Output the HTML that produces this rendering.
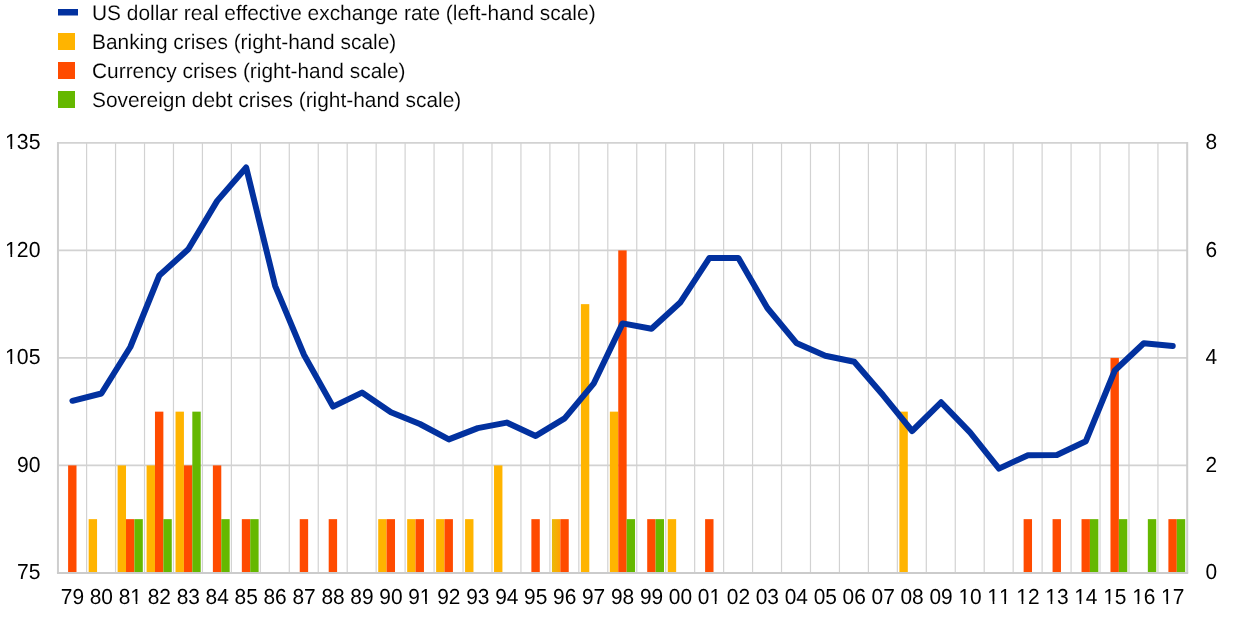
<!DOCTYPE html><html><head><meta charset="utf-8"><style>html,body{margin:0;padding:0;background:#fff;width:1240px;height:618px;overflow:hidden}svg{display:block;will-change:transform}text{font-family:"Liberation Sans",Arial,sans-serif;fill:#000;text-rendering:geometricPrecision;stroke:#fff;stroke-width:0.12px}text.d{stroke:none;font-kerning:none}</style></head><body>
<svg width="1240" height="618" viewBox="0 0 1240 618">
<defs><linearGradient id="g96" x1="0" x2="1" y1="0" y2="0"><stop offset="0" stop-color="#E8BA08"/><stop offset="0.5" stop-color="#F6AE04"/><stop offset="1" stop-color="#FFA200"/></linearGradient></defs>
<rect x="58" y="9" width="20" height="6.5" fill="#02319f"/>
<rect x="58" y="33" width="17" height="17" fill="#FFB400"/>
<rect x="58" y="62" width="17" height="17" fill="#FF4B00"/>
<rect x="58" y="91" width="17" height="17" fill="#65B800"/>
<text x="92.00" y="19.80" font-size="21.0" textLength="503.59" lengthAdjust="spacingAndGlyphs">US dollar real effective exchange rate (left-hand scale)</text>
<text x="92.00" y="48.80" font-size="21.0" textLength="304.22" lengthAdjust="spacingAndGlyphs">Banking crises (right-hand scale)</text>
<text x="92.00" y="77.80" font-size="21.0" textLength="313.47" lengthAdjust="spacingAndGlyphs">Currency crises (right-hand scale)</text>
<text x="92.00" y="106.80" font-size="21.0" textLength="369.25" lengthAdjust="spacingAndGlyphs">Sovereign debt crises (right-hand scale)</text>
<line x1="57.95" x2="1187.2" y1="142.90" y2="142.90" stroke="#d2d2d2" stroke-width="1.8"/>
<line x1="57.95" x2="1187.2" y1="250.40" y2="250.40" stroke="#d2d2d2" stroke-width="1.8"/>
<line x1="57.95" x2="1187.2" y1="357.90" y2="357.90" stroke="#d2d2d2" stroke-width="1.8"/>
<line x1="57.95" x2="1187.2" y1="465.40" y2="465.40" stroke="#d2d2d2" stroke-width="1.8"/>
<line x1="86.61" x2="86.61" y1="142.9" y2="572.9" stroke="#d2d2d2" stroke-width="1.2"/>
<line x1="115.56" x2="115.56" y1="142.9" y2="572.9" stroke="#d2d2d2" stroke-width="1.2"/>
<line x1="144.52" x2="144.52" y1="142.9" y2="572.9" stroke="#d2d2d2" stroke-width="1.2"/>
<line x1="173.47" x2="173.47" y1="142.9" y2="572.9" stroke="#d2d2d2" stroke-width="1.2"/>
<line x1="202.43" x2="202.43" y1="142.9" y2="572.9" stroke="#d2d2d2" stroke-width="1.2"/>
<line x1="231.38" x2="231.38" y1="142.9" y2="572.9" stroke="#d2d2d2" stroke-width="1.2"/>
<line x1="260.34" x2="260.34" y1="142.9" y2="572.9" stroke="#d2d2d2" stroke-width="1.2"/>
<line x1="289.29" x2="289.29" y1="142.9" y2="572.9" stroke="#d2d2d2" stroke-width="1.2"/>
<line x1="318.25" x2="318.25" y1="142.9" y2="572.9" stroke="#d2d2d2" stroke-width="1.2"/>
<line x1="347.20" x2="347.20" y1="142.9" y2="572.9" stroke="#d2d2d2" stroke-width="1.2"/>
<line x1="376.16" x2="376.16" y1="142.9" y2="572.9" stroke="#d2d2d2" stroke-width="1.2"/>
<line x1="405.11" x2="405.11" y1="142.9" y2="572.9" stroke="#d2d2d2" stroke-width="1.2"/>
<line x1="434.07" x2="434.07" y1="142.9" y2="572.9" stroke="#d2d2d2" stroke-width="1.2"/>
<line x1="463.02" x2="463.02" y1="142.9" y2="572.9" stroke="#d2d2d2" stroke-width="1.2"/>
<line x1="491.98" x2="491.98" y1="142.9" y2="572.9" stroke="#d2d2d2" stroke-width="1.2"/>
<line x1="520.93" x2="520.93" y1="142.9" y2="572.9" stroke="#d2d2d2" stroke-width="1.2"/>
<line x1="549.89" x2="549.89" y1="142.9" y2="572.9" stroke="#d2d2d2" stroke-width="1.2"/>
<line x1="578.84" x2="578.84" y1="142.9" y2="572.9" stroke="#d2d2d2" stroke-width="1.2"/>
<line x1="607.80" x2="607.80" y1="142.9" y2="572.9" stroke="#d2d2d2" stroke-width="1.2"/>
<line x1="636.75" x2="636.75" y1="142.9" y2="572.9" stroke="#d2d2d2" stroke-width="1.2"/>
<line x1="665.71" x2="665.71" y1="142.9" y2="572.9" stroke="#d2d2d2" stroke-width="1.2"/>
<line x1="694.66" x2="694.66" y1="142.9" y2="572.9" stroke="#d2d2d2" stroke-width="1.2"/>
<line x1="723.62" x2="723.62" y1="142.9" y2="572.9" stroke="#d2d2d2" stroke-width="1.2"/>
<line x1="752.57" x2="752.57" y1="142.9" y2="572.9" stroke="#d2d2d2" stroke-width="1.2"/>
<line x1="781.53" x2="781.53" y1="142.9" y2="572.9" stroke="#d2d2d2" stroke-width="1.2"/>
<line x1="810.48" x2="810.48" y1="142.9" y2="572.9" stroke="#d2d2d2" stroke-width="1.2"/>
<line x1="839.44" x2="839.44" y1="142.9" y2="572.9" stroke="#d2d2d2" stroke-width="1.2"/>
<line x1="868.39" x2="868.39" y1="142.9" y2="572.9" stroke="#d2d2d2" stroke-width="1.2"/>
<line x1="897.35" x2="897.35" y1="142.9" y2="572.9" stroke="#d2d2d2" stroke-width="1.2"/>
<line x1="926.30" x2="926.30" y1="142.9" y2="572.9" stroke="#d2d2d2" stroke-width="1.2"/>
<line x1="955.26" x2="955.26" y1="142.9" y2="572.9" stroke="#d2d2d2" stroke-width="1.2"/>
<line x1="984.21" x2="984.21" y1="142.9" y2="572.9" stroke="#d2d2d2" stroke-width="1.2"/>
<line x1="1013.17" x2="1013.17" y1="142.9" y2="572.9" stroke="#d2d2d2" stroke-width="1.2"/>
<line x1="1042.12" x2="1042.12" y1="142.9" y2="572.9" stroke="#d2d2d2" stroke-width="1.2"/>
<line x1="1071.08" x2="1071.08" y1="142.9" y2="572.9" stroke="#d2d2d2" stroke-width="1.2"/>
<line x1="1100.03" x2="1100.03" y1="142.9" y2="572.9" stroke="#d2d2d2" stroke-width="1.2"/>
<line x1="1128.99" x2="1128.99" y1="142.9" y2="572.9" stroke="#d2d2d2" stroke-width="1.2"/>
<line x1="1157.94" x2="1157.94" y1="142.9" y2="572.9" stroke="#d2d2d2" stroke-width="1.2"/>
<line x1="57.95" x2="57.95" y1="142.0" y2="572.9" stroke="#cecece" stroke-width="2"/>
<line x1="1187.20" x2="1187.20" y1="142.0" y2="572.9" stroke="#cecece" stroke-width="2"/>
<rect x="68.10" y="465.40" width="8.4" height="107.50" fill="#FF4B00"/>
<rect x="88.66" y="519.15" width="8.4" height="53.75" fill="#FFB400"/>
<rect x="117.61" y="465.40" width="8.4" height="107.50" fill="#FFB400"/>
<rect x="126.01" y="519.15" width="8.4" height="53.75" fill="#FF4B00"/>
<rect x="134.41" y="519.15" width="8.4" height="53.75" fill="#65B800"/>
<rect x="146.57" y="465.40" width="8.4" height="107.50" fill="#FFB400"/>
<rect x="154.97" y="411.65" width="8.4" height="161.25" fill="#FF4B00"/>
<rect x="163.37" y="519.15" width="8.4" height="53.75" fill="#65B800"/>
<rect x="175.52" y="411.65" width="8.4" height="161.25" fill="#FFB400"/>
<rect x="183.92" y="465.40" width="8.4" height="107.50" fill="#FF4B00"/>
<rect x="192.32" y="411.65" width="8.4" height="161.25" fill="#65B800"/>
<rect x="212.88" y="465.40" width="8.4" height="107.50" fill="#FF4B00"/>
<rect x="221.28" y="519.15" width="8.4" height="53.75" fill="#65B800"/>
<rect x="241.83" y="519.15" width="8.4" height="53.75" fill="#FF4B00"/>
<rect x="250.23" y="519.15" width="8.4" height="53.75" fill="#65B800"/>
<rect x="299.74" y="519.15" width="8.4" height="53.75" fill="#FF4B00"/>
<rect x="328.70" y="519.15" width="8.4" height="53.75" fill="#FF4B00"/>
<rect x="378.21" y="519.15" width="8.4" height="53.75" fill="#FFB400"/>
<rect x="386.61" y="519.15" width="8.4" height="53.75" fill="#FF4B00"/>
<rect x="407.16" y="519.15" width="8.4" height="53.75" fill="#FFB400"/>
<rect x="415.56" y="519.15" width="8.4" height="53.75" fill="#FF4B00"/>
<rect x="436.12" y="519.15" width="8.4" height="53.75" fill="#FFB400"/>
<rect x="444.52" y="519.15" width="8.4" height="53.75" fill="#FF4B00"/>
<rect x="465.07" y="519.15" width="8.4" height="53.75" fill="#FFB400"/>
<rect x="494.03" y="465.40" width="8.4" height="107.50" fill="#FFB400"/>
<rect x="531.38" y="519.15" width="8.4" height="53.75" fill="#FF4B00"/>
<rect x="551.94" y="519.15" width="8.4" height="53.75" fill="url(#g96)"/>
<rect x="560.34" y="519.15" width="8.4" height="53.75" fill="#FF4B00"/>
<rect x="580.89" y="304.15" width="8.4" height="268.75" fill="#FFB400"/>
<rect x="609.85" y="411.65" width="8.4" height="161.25" fill="#FFB400"/>
<rect x="618.25" y="250.40" width="8.4" height="322.50" fill="#FF4B00"/>
<rect x="626.65" y="519.15" width="8.4" height="53.75" fill="#65B800"/>
<rect x="647.20" y="519.15" width="8.4" height="53.75" fill="#FF4B00"/>
<rect x="655.60" y="519.15" width="8.4" height="53.75" fill="#65B800"/>
<rect x="667.76" y="519.15" width="8.4" height="53.75" fill="#FFB400"/>
<rect x="705.11" y="519.15" width="8.4" height="53.75" fill="#FF4B00"/>
<rect x="899.40" y="411.65" width="8.4" height="161.25" fill="#FFB400"/>
<rect x="1023.62" y="519.15" width="8.4" height="53.75" fill="#FF4B00"/>
<rect x="1052.57" y="519.15" width="8.4" height="53.75" fill="#FF4B00"/>
<rect x="1081.53" y="519.15" width="8.4" height="53.75" fill="#FF4B00"/>
<rect x="1089.93" y="519.15" width="8.4" height="53.75" fill="#65B800"/>
<rect x="1110.48" y="357.90" width="8.4" height="215.00" fill="#FF4B00"/>
<rect x="1118.88" y="519.15" width="8.4" height="53.75" fill="#65B800"/>
<rect x="1147.84" y="519.15" width="8.4" height="53.75" fill="#65B800"/>
<rect x="1168.39" y="519.15" width="8.4" height="53.75" fill="#FF4B00"/>
<rect x="1176.79" y="519.15" width="8.4" height="53.75" fill="#65B800"/>
<line x1="56.95" x2="1188.2" y1="572.9" y2="572.9" stroke="#cbcbcb" stroke-width="2"/>
<polyline points="72.43,400.8 101.38,393.5 130.34,347 159.29,275.5 188.25,249.3 217.20,200.9 246.16,167.5 275.11,285.8 304.07,355 333.02,406.6 361.98,392.6 390.93,412.2 419.89,424.0 448.84,439.4 477.80,428.1 506.75,422.6 535.71,435.9 564.66,418.4 593.62,383.7 622.58,323.4 651.53,328.8 680.49,302.2 709.44,257.9 738.40,257.9 767.35,308.0 796.31,342.9 825.26,355.7 854.22,361.7 883.17,395.3 912.13,431.0 941.08,402.3 970.04,432.3 998.99,468.6 1027.95,455.2 1056.90,455 1085.86,441.2 1114.81,370.5 1143.77,343.3 1172.72,346.0" fill="none" stroke="#02319f" stroke-width="6" stroke-linejoin="round" stroke-linecap="round"/>
<text class="d" x="40.50" y="149.10" font-size="21.7" textLength="35.46" lengthAdjust="spacingAndGlyphs" text-anchor="end">135</text>
<text class="d" x="40.50" y="256.60" font-size="21.7" textLength="35.46" lengthAdjust="spacingAndGlyphs" text-anchor="end">120</text>
<text class="d" x="40.50" y="364.10" font-size="21.7" textLength="35.46" lengthAdjust="spacingAndGlyphs" text-anchor="end">105</text>
<text class="d" x="40.50" y="471.60" font-size="21.7" textLength="23.45" lengthAdjust="spacingAndGlyphs" text-anchor="end">90</text>
<text class="d" x="40.50" y="579.10" font-size="21.7" textLength="23.45" lengthAdjust="spacingAndGlyphs" text-anchor="end">75</text>
<text class="d" x="1205.50" y="149.10" font-size="21.7" textLength="11.62" lengthAdjust="spacingAndGlyphs">8</text>
<text class="d" x="1205.50" y="256.60" font-size="21.7" textLength="11.62" lengthAdjust="spacingAndGlyphs">6</text>
<text class="d" x="1205.50" y="364.10" font-size="21.7" textLength="11.62" lengthAdjust="spacingAndGlyphs">4</text>
<text class="d" x="1205.50" y="471.60" font-size="21.7" textLength="11.62" lengthAdjust="spacingAndGlyphs">2</text>
<text class="d" x="1205.50" y="579.10" font-size="21.7" textLength="11.62" lengthAdjust="spacingAndGlyphs">0</text>
<text class="d" x="72.43" y="603.80" font-size="21.7" textLength="23.25" lengthAdjust="spacingAndGlyphs" text-anchor="middle">79</text>
<text class="d" x="101.38" y="603.80" font-size="21.7" textLength="23.25" lengthAdjust="spacingAndGlyphs" text-anchor="middle">80</text>
<text class="d" x="130.34" y="603.80" font-size="21.7" textLength="23.25" lengthAdjust="spacingAndGlyphs" text-anchor="middle">81</text>
<text class="d" x="159.29" y="603.80" font-size="21.7" textLength="23.25" lengthAdjust="spacingAndGlyphs" text-anchor="middle">82</text>
<text class="d" x="188.25" y="603.80" font-size="21.7" textLength="23.25" lengthAdjust="spacingAndGlyphs" text-anchor="middle">83</text>
<text class="d" x="217.20" y="603.80" font-size="21.7" textLength="23.25" lengthAdjust="spacingAndGlyphs" text-anchor="middle">84</text>
<text class="d" x="246.16" y="603.80" font-size="21.7" textLength="23.25" lengthAdjust="spacingAndGlyphs" text-anchor="middle">85</text>
<text class="d" x="275.11" y="603.80" font-size="21.7" textLength="23.25" lengthAdjust="spacingAndGlyphs" text-anchor="middle">86</text>
<text class="d" x="304.07" y="603.80" font-size="21.7" textLength="23.25" lengthAdjust="spacingAndGlyphs" text-anchor="middle">87</text>
<text class="d" x="333.02" y="603.80" font-size="21.7" textLength="23.25" lengthAdjust="spacingAndGlyphs" text-anchor="middle">88</text>
<text class="d" x="361.98" y="603.80" font-size="21.7" textLength="23.25" lengthAdjust="spacingAndGlyphs" text-anchor="middle">89</text>
<text class="d" x="390.93" y="603.80" font-size="21.7" textLength="23.25" lengthAdjust="spacingAndGlyphs" text-anchor="middle">90</text>
<text class="d" x="419.89" y="603.80" font-size="21.7" textLength="23.25" lengthAdjust="spacingAndGlyphs" text-anchor="middle">91</text>
<text class="d" x="448.84" y="603.80" font-size="21.7" textLength="23.25" lengthAdjust="spacingAndGlyphs" text-anchor="middle">92</text>
<text class="d" x="477.80" y="603.80" font-size="21.7" textLength="23.25" lengthAdjust="spacingAndGlyphs" text-anchor="middle">93</text>
<text class="d" x="506.75" y="603.80" font-size="21.7" textLength="23.25" lengthAdjust="spacingAndGlyphs" text-anchor="middle">94</text>
<text class="d" x="535.71" y="603.80" font-size="21.7" textLength="23.25" lengthAdjust="spacingAndGlyphs" text-anchor="middle">95</text>
<text class="d" x="564.66" y="603.80" font-size="21.7" textLength="23.25" lengthAdjust="spacingAndGlyphs" text-anchor="middle">96</text>
<text class="d" x="593.62" y="603.80" font-size="21.7" textLength="23.25" lengthAdjust="spacingAndGlyphs" text-anchor="middle">97</text>
<text class="d" x="622.58" y="603.80" font-size="21.7" textLength="23.25" lengthAdjust="spacingAndGlyphs" text-anchor="middle">98</text>
<text class="d" x="651.53" y="603.80" font-size="21.7" textLength="23.25" lengthAdjust="spacingAndGlyphs" text-anchor="middle">99</text>
<text class="d" x="680.49" y="603.80" font-size="21.7" textLength="23.25" lengthAdjust="spacingAndGlyphs" text-anchor="middle">00</text>
<text class="d" x="709.44" y="603.80" font-size="21.7" textLength="23.25" lengthAdjust="spacingAndGlyphs" text-anchor="middle">01</text>
<text class="d" x="738.40" y="603.80" font-size="21.7" textLength="23.25" lengthAdjust="spacingAndGlyphs" text-anchor="middle">02</text>
<text class="d" x="767.35" y="603.80" font-size="21.7" textLength="23.25" lengthAdjust="spacingAndGlyphs" text-anchor="middle">03</text>
<text class="d" x="796.31" y="603.80" font-size="21.7" textLength="23.25" lengthAdjust="spacingAndGlyphs" text-anchor="middle">04</text>
<text class="d" x="825.26" y="603.80" font-size="21.7" textLength="23.25" lengthAdjust="spacingAndGlyphs" text-anchor="middle">05</text>
<text class="d" x="854.22" y="603.80" font-size="21.7" textLength="23.25" lengthAdjust="spacingAndGlyphs" text-anchor="middle">06</text>
<text class="d" x="883.17" y="603.80" font-size="21.7" textLength="23.25" lengthAdjust="spacingAndGlyphs" text-anchor="middle">07</text>
<text class="d" x="912.13" y="603.80" font-size="21.7" textLength="23.25" lengthAdjust="spacingAndGlyphs" text-anchor="middle">08</text>
<text class="d" x="941.08" y="603.80" font-size="21.7" textLength="23.25" lengthAdjust="spacingAndGlyphs" text-anchor="middle">09</text>
<text class="d" x="970.04" y="603.80" font-size="21.7" textLength="23.25" lengthAdjust="spacingAndGlyphs" text-anchor="middle">10</text>
<text class="d" x="998.99" y="603.80" font-size="21.7" textLength="23.25" lengthAdjust="spacingAndGlyphs" text-anchor="middle">11</text>
<text class="d" x="1027.95" y="603.80" font-size="21.7" textLength="23.25" lengthAdjust="spacingAndGlyphs" text-anchor="middle">12</text>
<text class="d" x="1056.90" y="603.80" font-size="21.7" textLength="23.25" lengthAdjust="spacingAndGlyphs" text-anchor="middle">13</text>
<text class="d" x="1085.86" y="603.80" font-size="21.7" textLength="23.25" lengthAdjust="spacingAndGlyphs" text-anchor="middle">14</text>
<text class="d" x="1114.81" y="603.80" font-size="21.7" textLength="23.25" lengthAdjust="spacingAndGlyphs" text-anchor="middle">15</text>
<text class="d" x="1143.77" y="603.80" font-size="21.7" textLength="23.25" lengthAdjust="spacingAndGlyphs" text-anchor="middle">16</text>
<text class="d" x="1172.72" y="603.80" font-size="21.7" textLength="23.25" lengthAdjust="spacingAndGlyphs" text-anchor="middle">17</text>
<rect x="5.31" y="146.78" width="5.18" height="3.22" fill="#fff"/>
<rect x="12.16" y="146.78" width="4.70" height="3.22" fill="#fff"/>
<rect x="5.31" y="254.28" width="5.18" height="3.22" fill="#fff"/>
<rect x="12.16" y="254.28" width="4.70" height="3.22" fill="#fff"/>
<rect x="5.31" y="361.78" width="5.18" height="3.22" fill="#fff"/>
<rect x="12.16" y="361.78" width="4.70" height="3.22" fill="#fff"/>
<rect x="130.60" y="601.48" width="5.09" height="3.22" fill="#fff"/>
<rect x="137.34" y="601.48" width="4.62" height="3.22" fill="#fff"/>
<rect x="420.15" y="601.48" width="5.09" height="3.22" fill="#fff"/>
<rect x="426.89" y="601.48" width="4.62" height="3.22" fill="#fff"/>
<rect x="709.70" y="601.48" width="5.09" height="3.22" fill="#fff"/>
<rect x="716.44" y="601.48" width="4.62" height="3.22" fill="#fff"/>
<rect x="958.68" y="601.48" width="5.09" height="3.22" fill="#fff"/>
<rect x="965.41" y="601.48" width="4.62" height="3.22" fill="#fff"/>
<rect x="987.63" y="601.48" width="5.09" height="3.22" fill="#fff"/>
<rect x="994.37" y="601.48" width="4.62" height="3.22" fill="#fff"/>
<rect x="999.26" y="601.48" width="5.09" height="3.22" fill="#fff"/>
<rect x="1005.99" y="601.48" width="4.62" height="3.22" fill="#fff"/>
<rect x="1016.59" y="601.48" width="5.09" height="3.22" fill="#fff"/>
<rect x="1023.32" y="601.48" width="4.62" height="3.22" fill="#fff"/>
<rect x="1045.54" y="601.48" width="5.09" height="3.22" fill="#fff"/>
<rect x="1052.28" y="601.48" width="4.62" height="3.22" fill="#fff"/>
<rect x="1074.50" y="601.48" width="5.09" height="3.22" fill="#fff"/>
<rect x="1081.23" y="601.48" width="4.62" height="3.22" fill="#fff"/>
<rect x="1103.45" y="601.48" width="5.09" height="3.22" fill="#fff"/>
<rect x="1110.19" y="601.48" width="4.62" height="3.22" fill="#fff"/>
<rect x="1132.41" y="601.48" width="5.09" height="3.22" fill="#fff"/>
<rect x="1139.14" y="601.48" width="4.62" height="3.22" fill="#fff"/>
<rect x="1161.36" y="601.48" width="5.09" height="3.22" fill="#fff"/>
<rect x="1168.10" y="601.48" width="4.62" height="3.22" fill="#fff"/>
</svg></body></html>
